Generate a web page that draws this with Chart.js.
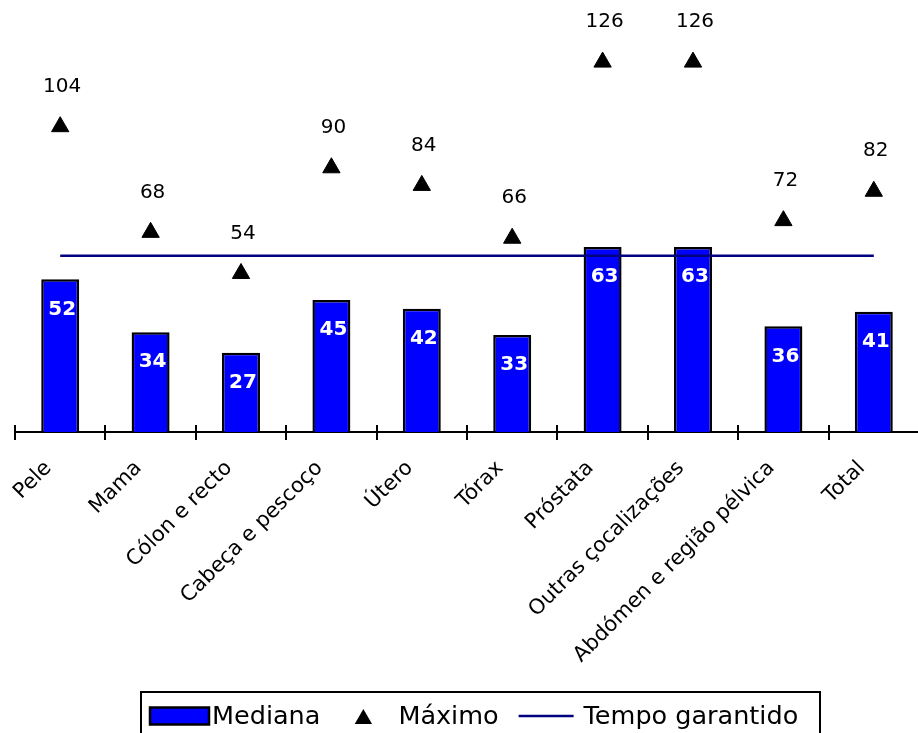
<!DOCTYPE html>
<html lang="pt">
<head>
<meta charset="utf-8">
<title>Tempos de espera — Mediana e Máximo</title>
<script src="https://cdn.jsdelivr.net/npm/chart.js@4.4.1/dist/chart.umd.min.js"></script>
<style>
  html, body { margin: 0; padding: 0; background: #fff; overflow: hidden; }
  #wrap { position: relative; width: 930px; height: 733px; }
</style>
</head>
<body>
<div id="wrap"><canvas id="chart"></canvas></div>
<script>
/* ── Data ── */
const categorias = ['Pele', 'Mama', 'Cólon e recto', 'Cabeça e pescoço', 'Útero', 'Tórax',
                    'Próstata', 'Outras çocalizações', 'Abdómen e região pélvica', 'Total'];
const mediana        = [52, 34, 27, 45, 42, 33, 63, 63, 36, 41];
const maximo         = [104, 68, 54, 90, 84, 66, 126, 126, 72, 82];
const tempoGarantido = [60, 60, 60, 60, 60, 60, 60, 60, 60, 60];
const legendLabels   = ['Mediana', 'Máximo', 'Tempo garantido'];

/* ── Styles ── */
const FONT  = 'DejaVu Sans';
const BLUE  = '#0000ff';
const NAVY  = '#000080';
const BLACK = '#000000';

/* ── Tick marks crossing the axis (upper half; lower half is the grid tick) ── */
const axisCross = {
  id: 'axisCross',
  afterDraw(chart) {
    const xs = chart.scales.x, ctx = chart.ctx;
    const step = xs.getPixelForValue(1) - xs.getPixelForValue(0);
    ctx.save();
    ctx.strokeStyle = BLACK;
    ctx.lineWidth = 2;
    for (let i = 0; i <= categorias.length; i++) {
      const x = Math.round(xs.getPixelForValue(0) - step / 2 + i * step);
      ctx.beginPath();
      ctx.moveTo(x, xs.top - 7);
      ctx.lineTo(x, xs.top);
      ctx.stroke();
    }
    ctx.restore();
  }
};

/* ── Value labels: white inside bars, black above the triangles ── */
const valueLabels = {
  id: 'valueLabels',
  afterDatasetsDraw(chart) {
    const ctx = chart.ctx;
    ctx.save();
    ctx.textAlign = 'center';
    ctx.textBaseline = 'middle';

    ctx.fillStyle = '#ffffff';
    ctx.font = `bold 20px "${FONT}"`;
    chart.getDatasetMeta(0).data.forEach((bar, i) => {
      ctx.fillText(String(mediana[i]), bar.x + 2, bar.y + 30);
    });

    ctx.fillStyle = BLACK;
    ctx.font = `20px "${FONT}"`;
    chart.getDatasetMeta(2).data.forEach((pt, i) => {
      ctx.fillText(String(maximo[i]), pt.x + 2, pt.y - 40);
    });
    ctx.restore();
  }
};

/* ── Framed legend at the bottom ── */
const LEGEND = { left: 141, top: 692, width: 679, height: 60, midY: 716 };

function triangle(ctx, x, y, r) {
  ctx.beginPath();
  ctx.moveTo(x, y - r);
  ctx.lineTo(x + r * Math.sqrt(3) / 2, y + r / 2);
  ctx.lineTo(x - r * Math.sqrt(3) / 2, y + r / 2);
  ctx.closePath();
  ctx.fill();
}

const framedLegend = {
  id: 'framedLegend',
  afterDraw(chart) {
    const ctx = chart.ctx;
    const y = LEGEND.midY;
    ctx.save();
    ctx.strokeStyle = BLACK;
    ctx.lineWidth = 2;
    ctx.strokeRect(LEGEND.left, LEGEND.top, LEGEND.width, LEGEND.height);

    ctx.font = `25.5px "${FONT}"`;
    ctx.textBaseline = 'middle';
    ctx.textAlign = 'left';
    let x = 150;

    // Mediana: blue box
    ctx.fillStyle = BLUE;
    ctx.fillRect(x, y - 8.5, 59, 17);
    ctx.lineWidth = 2.5;
    ctx.strokeRect(x, y - 8.5, 59, 17);
    x += 62;
    ctx.fillStyle = BLACK;
    ctx.fillText(legendLabels[0], x, y + 1);
    x += ctx.measureText(legendLabels[0]).width + 35;

    // Máximo: triangle
    triangle(ctx, x + 8, y + 3, 10);
    x += 16 + 27;
    ctx.fillText(legendLabels[1], x, y + 1);
    x += ctx.measureText(legendLabels[1]).width + 20;

    // Tempo garantido: navy line
    ctx.strokeStyle = NAVY;
    ctx.beginPath();
    ctx.moveTo(x, y);
    ctx.lineTo(x + 55, y);
    ctx.stroke();
    x += 65;
    ctx.fillText(legendLabels[2], x, y + 1);
    ctx.restore();
  }
};

/* ── Chart ── */
new Chart(document.getElementById('chart'), {
  type: 'bar',
  data: {
    labels: categorias,
    datasets: [
      {
        label: legendLabels[0],
        data: mediana,
        backgroundColor: BLUE,
        borderColor: BLACK,
        borderWidth: 2.5,
        borderSkipped: 'start',
        categoryPercentage: 1,
        barPercentage: 0.42,
        order: 3
      },
      {
        type: 'line',
        label: legendLabels[2],
        data: tempoGarantido,
        borderColor: NAVY,
        borderWidth: 2.5,
        pointRadius: 0,
        fill: false,
        tension: 0,
        order: 2
      },
      {
        type: 'line',
        label: legendLabels[1],
        data: maximo,
        showLine: false,
        pointStyle: 'triangle',
        pointRadius: 10,
        pointBackgroundColor: BLACK,
        pointBorderColor: BLACK,
        pointBorderWidth: 1,
        clip: false,
        order: 1
      }
    ]
  },
  options: {
    responsive: true,
    maintainAspectRatio: false,
    animation: false,
    events: [],
    layout: { padding: { top: 21, left: 15, right: 8, bottom: 0 } },
    plugins: {
      legend: { display: false },
      tooltip: { enabled: false }
    },
    scales: {
      x: {
        offset: true,
        grid: { offset: true, drawOnChartArea: false, drawTicks: true, tickLength: 8, color: BLACK, lineWidth: 2 },
        border: { display: true, color: BLACK, width: 2 },
        ticks: {
          autoSkip: false, minRotation: 45, maxRotation: 45,
          padding: 16, labelOffset: -12,
          color: BLACK, font: { family: FONT, size: 21 }
        },
        afterFit: s => { s.height = 301; }
      },
      y: { display: false, min: 0, max: 140 }
    }
  },
  plugins: [axisCross, valueLabels, framedLegend]
});
</script>
</body>
</html>
